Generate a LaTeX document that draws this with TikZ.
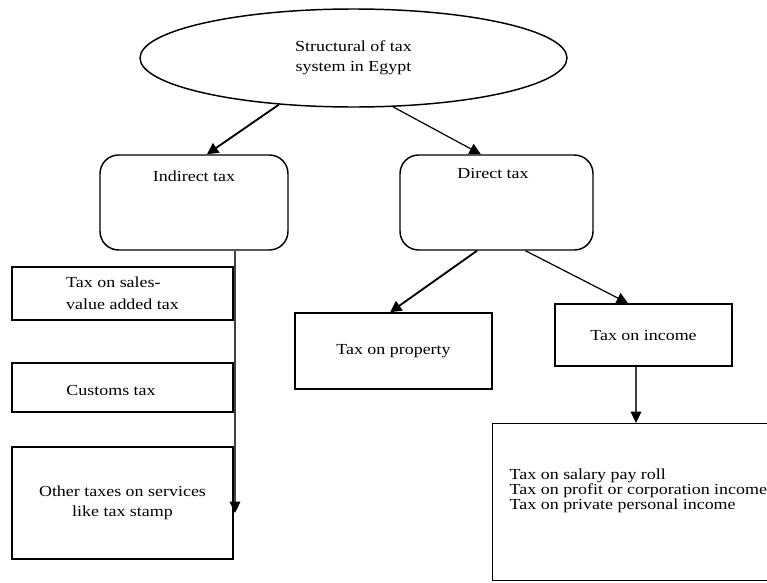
\documentclass[tikz,border=0pt]{standalone}
\usepackage{fontspec}
\setmainfont{Liberation Serif}[FakeStretch=1.17]
\usetikzlibrary{shapes.geometric,arrows.meta,calc}
\begin{document}
\begin{tikzpicture}[x=0.75pt,y=-0.75pt,
  txt/.style={font=\fontsize{11.5}{15}\selectfont, text=black},
  box/.style={draw, line width=1.1pt, rectangle, inner sep=0pt, txt},
  rbox/.style={box, rounded corners=14pt},
  arr/.style={-{Triangle[length=8.5pt,width=8.5pt]}, line width=1.4pt},
  arrthin/.style={-{Triangle[length=8.5pt,width=8.5pt]}, line width=0.9pt},
  vline/.style={-{Triangle[length=8.5pt,width=8pt,black]}, line width=0.8pt, draw=black!75}]
\useasboundingbox (0,0) rectangle (767,582);

\node[draw, ellipse, line width=1.1pt, minimum width=320.25pt, minimum height=73.5pt,
      inner sep=0pt, txt, align=center] (top) at (353.5,58) {Structural of tax\\system in Egypt};

\node[rbox, minimum width=141pt, minimum height=71.25pt,
      label={[txt, anchor=center, yshift=-16.5pt]north:Indirect tax}] (ind) at (194,202.5) {};
\node[rbox, minimum width=144.75pt, minimum height=71.25pt,
      label={[txt, anchor=center, xshift=-2.6pt, yshift=-14.25pt]north:Direct tax}] (dir) at (496.5,202.5) {};

\node[box, minimum width=165.75pt, minimum height=39.75pt, align=left,
      font=\fontsize{11.5}{16.5}\selectfont] (sales) at (122.5,293.5) {Tax on sales-\\value added tax};
\node[box, minimum width=165.75pt, minimum height=36.75pt,
      label={[txt, anchor=center, xshift=-8.6pt, yshift=-1.9pt]center:Customs tax}] (customs) at (122.5,387.5) {};
\node[box, minimum width=165.75pt, minimum height=84pt, align=center] (other) at (122.5,503)
      {Other taxes on services\\like tax stamp};

\node[box, minimum width=147.75pt, minimum height=57pt] (prop) at (393.5,351) {Tax on property};
\node[box, minimum width=132.75pt, minimum height=46.5pt] (inc) at (643.5,335) {Tax on income};

\node[box, anchor=north west, minimum width=250pt, minimum height=117.75pt,
      label={[font=\fontsize{11.5}{11.25}\selectfont, text=black, align=left, anchor=west,
              label distance=-9.75pt, yshift=8.6pt]west:Tax on salary pay roll\\Tax on profit or corporation income\\Tax on private personal income}]
      (big) at (492,423) {};

\coordinate (incx) at (636,0);
\coordinate (indx) at (235,0);
\coordinate (tip) at (235,513);

\draw[arr] (top.212.6) -- (ind.75);
\draw[arrthin] (top.-51) -- (dir.108.4);
\draw[arr] (dir.248.7) -- (prop.95);
\draw[arrthin] (dir.-59) -- (inc.116.6);
\draw[vline] (inc.south -| incx) -- (big.north -| incx);
\draw[vline] (ind.south -| indx) -- (tip);
\end{tikzpicture}
\end{document}
